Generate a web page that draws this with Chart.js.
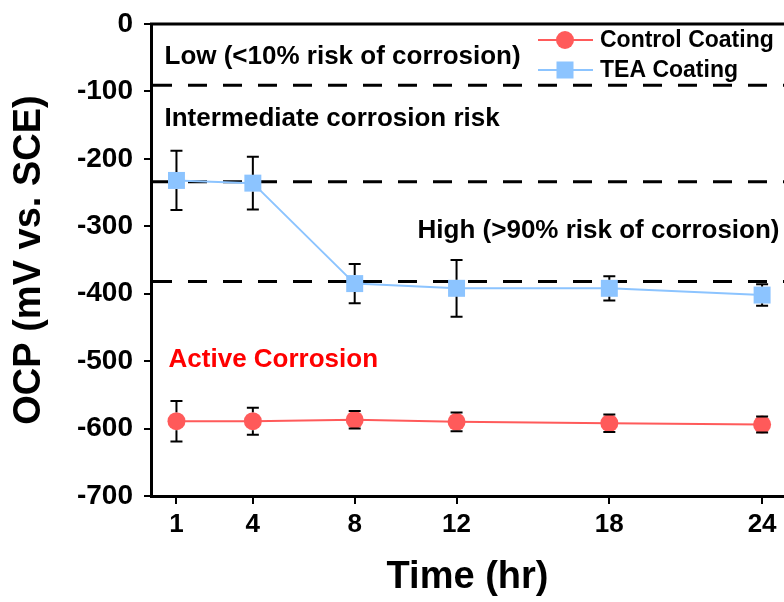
<!DOCTYPE html>
<html>
<head>
<meta charset="utf-8">
<script src="https://cdn.jsdelivr.net/npm/chart.js@4.4.1/dist/chart.umd.min.js"></script>
<style>
  body { margin: 0; background: #fff; }
  canvas { display: block; }
</style>
</head>
<body>
<canvas id="ocpChart" width="784" height="602"></canvas>
<script>
// values
const timeHr = [1, 4, 8, 12, 18, 24];
const controlOcp = [-589, -589, -587, -590, -592, -594];
const controlErr = [30, 20, 13, 14, 13, 12];
const teaOcp = [-232, -236, -385, -392, -392, -402];
const teaErr = [44, 39, 29, 42, 18, 16];
const riskLevels = [-91, -234, -382];
const yTicks = [0, -100, -200, -300, -400, -500, -600, -700];

const FONT = "'Liberation Sans', Arial, sans-serif";

// notes placed in data units (hr, mV)
const notes = [
  { text: 'Low (<10% risk of corrosion)', x: 0.53, y: -59, color: '#000' },
  { text: 'Intermediate corrosion risk', x: 0.53, y: -151, color: '#000' },
  { text: 'High (>90% risk of corrosion)', x: 10.47, y: -317, color: '#000' },
  { text: 'Active Corrosion', x: 0.69, y: -508, color: '#ff0000' }
];

const riskLines = {
  id: 'riskLines',
  beforeDatasetsDraw(chart) {
    const { ctx, chartArea, scales } = chart;
    ctx.save();
    ctx.strokeStyle = '#000';
    ctx.lineWidth = 3;
    ctx.setLineDash([19, 16]);
    riskLevels.forEach(v => {
      const py = scales.y.getPixelForValue(v);
      ctx.beginPath();
      ctx.moveTo(chartArea.left + 2, py);
      ctx.lineTo(chartArea.right, py);
      ctx.stroke();
    });
    ctx.restore();
  }
};

const errorBars = {
  id: 'errorBars',
  afterDatasetsDraw(chart) {
    const { ctx, scales } = chart;
    ctx.save();
    ctx.strokeStyle = '#000';
    ctx.lineWidth = 2;
    chart.data.datasets.forEach(ds => {
      const half = ds.markerHalf;
      ds.err.forEach((e, i) => {
        const px = scales.x.getPixelForValue(timeHr[i]);
        const pc = scales.y.getPixelForValue(ds.data[i].y);
        const pt = scales.y.getPixelForValue(ds.data[i].y + e);
        const pb = scales.y.getPixelForValue(ds.data[i].y - e);
        ctx.beginPath();
        if (pt < pc - half) { ctx.moveTo(px, pt); ctx.lineTo(px, pc - half); }
        if (pb > pc + half) { ctx.moveTo(px, pc + half); ctx.lineTo(px, pb); }
        ctx.moveTo(px - 6, pt); ctx.lineTo(px + 6, pt);
        ctx.moveTo(px - 6, pb); ctx.lineTo(px + 6, pb);
        ctx.stroke();
      });
    });
    ctx.restore();
  }
};

const notesAndLegend = {
  id: 'notesAndLegend',
  afterDraw(chart) {
    const { ctx, chartArea, scales } = chart;
    ctx.save();
    // top frame line
    ctx.strokeStyle = '#000';
    ctx.lineWidth = 3;
    ctx.beginPath();
    ctx.moveTo(chartArea.left - 1, chartArea.top);
    ctx.lineTo(chart.width, chartArea.top);
    ctx.stroke();

    ctx.font = 'bold 26px ' + FONT;
    ctx.textBaseline = 'alphabetic';
    ctx.textAlign = 'left';
    notes.forEach(n => {
      ctx.fillStyle = n.color;
      ctx.fillText(n.text, scales.x.getPixelForValue(n.x), scales.y.getPixelForValue(n.y));
    });

    // legend
    ctx.font = 'bold 23px ' + FONT;
    ctx.textBaseline = 'middle';
    chart.data.datasets.forEach((ds, i) => {
      const ly = 40 + i * 30;
      ctx.strokeStyle = ds.borderColor;
      ctx.lineWidth = 2;
      ctx.beginPath();
      ctx.moveTo(538, ly);
      ctx.lineTo(593, ly);
      ctx.stroke();
      ctx.fillStyle = ds.pointBackgroundColor;
      if (ds.pointStyle === 'circle') {
        ctx.beginPath();
        ctx.arc(565, ly, 9, 0, Math.PI * 2);
        ctx.fill();
      } else {
        ctx.fillRect(565 - 8.5, ly - 8.5, 17, 17);
      }
      ctx.fillStyle = '#000';
      ctx.fillText(ds.label, 600, ly + 1);
    });
    ctx.restore();
  }
};

const ctx = document.getElementById('ocpChart').getContext('2d');
new Chart(ctx, {
  type: 'line',
  data: {
    datasets: [
      {
        label: 'Control Coating',
        data: timeHr.map((t, i) => ({ x: t, y: controlOcp[i] })),
        err: controlErr,
        markerHalf: 9,
        borderColor: '#ff5a5a',
        backgroundColor: '#ff5a5a',
        pointBackgroundColor: '#ff5a5a',
        pointBorderWidth: 0,
        pointStyle: 'circle',
        pointRadius: 9,
        borderWidth: 2,
        tension: 0
      },
      {
        label: 'TEA Coating',
        data: timeHr.map((t, i) => ({ x: t, y: teaOcp[i] })),
        err: teaErr,
        markerHalf: 8.5,
        borderColor: '#8cc4ff',
        backgroundColor: '#8cc4ff',
        pointBackgroundColor: '#8cc4ff',
        pointBorderWidth: 0,
        pointStyle: 'rect',
        pointRadius: 12,
        borderWidth: 2,
        tension: 0
      }
    ]
  },
  options: {
    responsive: false,
    animation: false,
    layout: { autoPadding: false, padding: { top: 24, right: 0, left: 0, bottom: 0 } },
    plugins: {
      legend: { display: false },
      tooltip: { enabled: false }
    },
    scales: {
      x: {
        type: 'linear',
        min: 0,
        max: 24.86,
        afterBuildTicks: scale => { scale.ticks = timeHr.map(v => ({ value: v })); },
        afterFit: scale => {
          scale.height = 106;
          scale.paddingLeft = 0;
          scale.paddingRight = 0;
        },
        border: { display: true, color: '#000', width: 3 },
        grid: { drawOnChartArea: false, drawTicks: true, tickLength: 8, color: '#000', lineWidth: 2 },
        ticks: { color: '#000', padding: 5, maxRotation: 0, font: { family: FONT, size: 26, weight: 'bold' } },
        title: {
          display: true,
          text: 'Time (hr)',
          color: '#000',
          padding: { top: 0, bottom: 2 },
          font: { family: FONT, size: 38, weight: 'bold' }
        }
      },
      y: {
        min: -700,
        max: 0,
        afterBuildTicks: scale => {
          const t = [];
          for (let v = -700; v <= 0; v += 50) t.push({ value: v });
          scale.ticks = t;
        },
        afterFit: scale => {
          scale.width = 151;
          scale.paddingTop = 0;
          scale.paddingBottom = 0;
        },
        border: { display: true, color: '#000', width: 3 },
        grid: { drawOnChartArea: false, drawTicks: true, tickLength: 7, color: '#000', lineWidth: 2 },
        ticks: {
          color: '#000',
          padding: 11,
          font: { family: FONT, size: 28, weight: 'bold' },
          callback: v => (yTicks.includes(v) ? String(v) : '')
        },
        title: {
          display: true,
          text: 'OCP (mV vs. SCE)',
          color: '#000',
          padding: { top: 7, bottom: 0 },
          font: { family: FONT, size: 38, weight: 'bold' }
        }
      }
    }
  },
  plugins: [riskLines, errorBars, notesAndLegend]
});
</script>
</body>
</html>
